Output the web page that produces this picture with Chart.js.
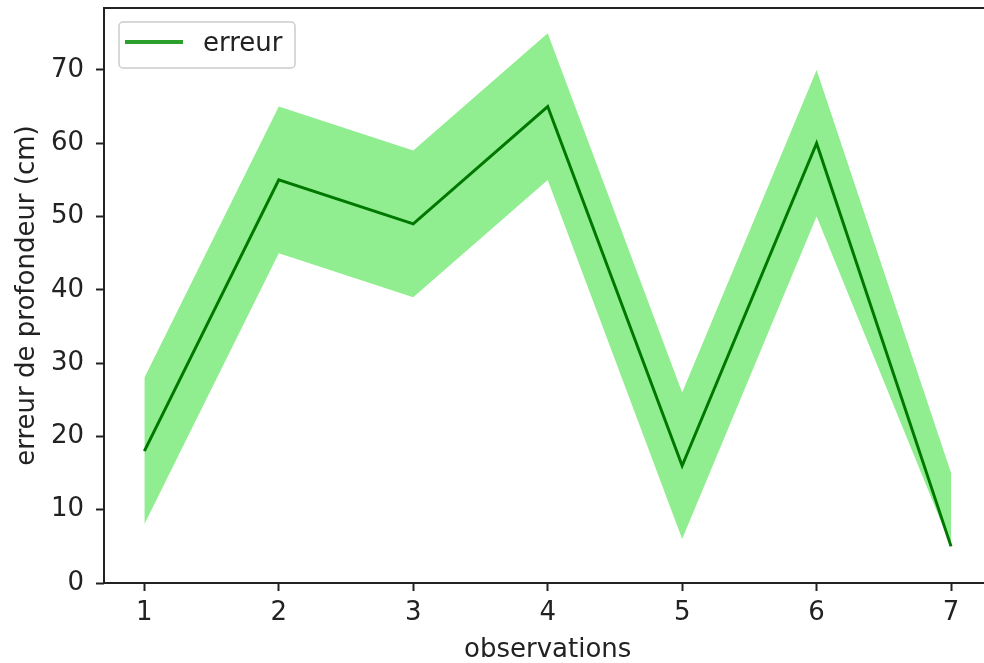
<!DOCTYPE html>
<html>
<head>
<meta charset="utf-8">
<script src="https://cdn.jsdelivr.net/npm/chart.js@4/dist/chart.umd.min.js"></script>
<style>
  html, body { margin: 0; padding: 0; background: #fff; overflow: hidden; }
  #wrap { width: 1000px; height: 663px; }
</style>
</head>
<body>
<div id="wrap"><canvas id="c" width="1000" height="663"></canvas></div>
<script>
// Depth error per observation, with its upper and lower envelope
const observations = [1, 2, 3, 4, 5, 6, 7];
const erreur       = [18, 55, 49, 65, 16, 60, 5];
const borneHaute   = [28, 65, 59, 75, 26, 70, 15];
const borneBasse   = [8, 45, 39, 55, 6, 50, 5];

const xTicks = [1, 2, 3, 4, 5, 6, 7];
const yTicks = [0, 10, 20, 30, 40, 50, 60, 70];

const FONT = 'DejaVu Sans';
const INK = '#222222';

const toPoints = vals => observations.map((x, i) => ({ x: x, y: vals[i] }));

// Frame around the plotting area (all four spines)
const frame = {
  id: 'frame',
  afterDatasetsDraw(chart) {
    const { ctx, chartArea: a } = chart;
    ctx.save();
    ctx.strokeStyle = INK;
    ctx.lineWidth = 2;
    ctx.strokeRect(a.left, a.top, a.right - a.left, a.bottom - a.top);
    ctx.restore();
  }
};

// Legend box in the upper-left corner of the plotting area
const boxLegend = {
  id: 'boxLegend',
  afterDraw(chart, args, opts) {
    const { ctx, chartArea: a } = chart;
    const ds = chart.data.datasets.find(d => d.showInLegend);
    const x = a.left + 15, y = a.top + 14, w = 176, h = 46;
    ctx.save();
    ctx.beginPath();
    ctx.roundRect(x, y, w, h, 4);
    ctx.fillStyle = 'rgba(255,255,255,0.85)';
    ctx.fill();
    ctx.strokeStyle = '#cccccc';
    ctx.lineWidth = 1.5;
    ctx.stroke();
    ctx.beginPath();
    ctx.moveTo(x + 6, y + 20);
    ctx.lineTo(x + 64, y + 20);
    ctx.strokeStyle = opts.color;
    ctx.lineWidth = 4;
    ctx.stroke();
    ctx.fillStyle = INK;
    ctx.font = '26px "' + FONT + '"';
    ctx.textBaseline = 'alphabetic';
    ctx.textAlign = 'left';
    ctx.fillText(ds.label, x + 84, y + 29);
    ctx.restore();
  }
};

new Chart(document.getElementById('c'), {
  type: 'line',
  data: {
    datasets: [
      {
        label: 'borne haute',
        data: toPoints(borneHaute),
        borderWidth: 0,
        borderColor: 'rgba(0,0,0,0)',
        backgroundColor: '#90ee90',
        pointRadius: 0,
        fill: '+1',
        tension: 0,
        order: 3
      },
      {
        label: 'borne basse',
        data: toPoints(borneBasse),
        borderWidth: 0,
        borderColor: 'rgba(0,0,0,0)',
        backgroundColor: '#90ee90',
        pointRadius: 0,
        fill: false,
        tension: 0,
        order: 2
      },
      {
        label: 'erreur',
        showInLegend: true,
        data: toPoints(erreur),
        borderColor: '#007800',
        borderWidth: 3,
        pointRadius: 0,
        fill: false,
        tension: 0,
        order: 1
      }
    ]
  },
  options: {
    responsive: false,
    devicePixelRatio: 1,
    animation: false,
    events: [],
    layout: { padding: { left: 0, top: 8, right: 8.6, bottom: 0 } },
    plugins: {
      legend: { display: false },
      tooltip: { enabled: false },
      boxLegend: { color: '#2ca02c' }
    },
    scales: {
      x: {
        type: 'linear',
        min: 0.7,
        max: 7.3,
        afterBuildTicks: s => { s.ticks = xTicks.map(v => ({ value: v })); },
        afterFit: s => { s.height = 80; s.paddingLeft = 0; s.paddingRight = 0; },
        border: { display: false },
        grid: { drawOnChartArea: false, drawTicks: true, tickLength: 8, tickColor: INK, tickWidth: 2 },
        ticks: {
          color: INK,
          font: { family: FONT, size: 26 },
          padding: 7,
          maxRotation: 0,
          callback: v => String(v)
        },
        title: {
          display: true,
          text: 'observations',
          color: INK,
          font: { family: FONT, size: 26, lineHeight: 1 },
          padding: { top: 0, bottom: 0 }
        }
      },
      y: {
        min: 0,
        max: 78.45,
        afterBuildTicks: s => { s.ticks = yTicks.map(v => ({ value: v })); },
        afterFit: s => { s.width = 104; s.paddingTop = 0; s.paddingBottom = 0; },
        border: { display: false },
        grid: { drawOnChartArea: false, drawTicks: true, tickLength: 8, tickColor: INK, tickWidth: 2 },
        ticks: {
          color: INK,
          font: { family: FONT, size: 26 },
          padding: 12,
          callback: v => String(v)
        },
        title: {
          display: true,
          text: 'erreur de profondeur (cm)',
          color: INK,
          font: { family: FONT, size: 26, lineHeight: 1 },
          padding: { top: 14, bottom: 0 }
        }
      }
    }
  },
  plugins: [frame, boxLegend]
});
</script>
</body>
</html>
